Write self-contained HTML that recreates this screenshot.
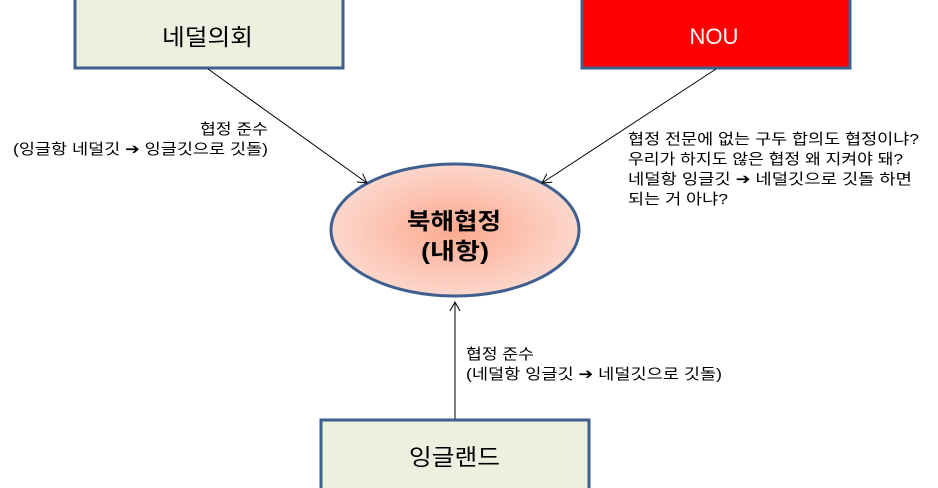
<!DOCTYPE html>
<html><head><meta charset="utf-8"><style>
body{margin:0;width:938px;height:488px;background:#fff;overflow:hidden;}
svg{position:absolute;left:0;top:0}
text{font-family:"Liberation Sans","Noto Sans CJK KR","NanumGothic",sans-serif;}
</style></head><body>
<svg width="938" height="488" viewBox="0 0 938 488">
<defs>
<radialGradient id="g" cx="0.5" cy="0.5" r="0.6">
<stop offset="0" stop-color="#fba98f"/><stop offset="1" stop-color="#fde0d8"/>
</radialGradient>
<marker id="a" markerWidth="12" markerHeight="12" refX="10" refY="6" orient="auto" markerUnits="userSpaceOnUse">
<path d="M1,1 L10,6 L1,11" fill="none" stroke="#000" stroke-width="1"/>
</marker>
</defs>
<rect x="75" y="-3" width="268" height="71" fill="#ebf1de" stroke="#3f5f8f" stroke-width="3"/>
<text x="162" y="45" font-size="23" textLength="91" lengthAdjust="spacingAndGlyphs">네덜의회</text>
<rect x="582" y="-3" width="268" height="71" fill="#ff0000" stroke="#3f5f8f" stroke-width="3"/>
<text x="714" y="44" font-size="22" text-anchor="middle" fill="#fff">NOU</text>
<rect x="321" y="420" width="268" height="71" fill="#ebf1de" stroke="#3f5f8f" stroke-width="3"/>
<text x="409" y="465" font-size="23" textLength="91" lengthAdjust="spacingAndGlyphs">잉글랜드</text>
<ellipse cx="455" cy="230" rx="124" ry="66" fill="url(#g)" stroke="#3f5f8f" stroke-width="3"/>
<text x="407" y="229" font-size="23" font-weight="bold" textLength="94" lengthAdjust="spacingAndGlyphs">북해협정</text>
<text x="421" y="259" font-size="23" font-weight="bold" textLength="68" lengthAdjust="spacingAndGlyphs">(내항)</text>
<line x1="208" y1="69" x2="367" y2="183" stroke="#000" stroke-width="1" marker-end="url(#a)"/>
<line x1="716" y1="69" x2="542" y2="183" stroke="#000" stroke-width="1" marker-end="url(#a)"/>
<line x1="455" y1="419" x2="455" y2="302" stroke="#000" stroke-width="1" marker-end="url(#a)"/>
<g font-size="15">
<text x="200" y="134" textLength="68" lengthAdjust="spacingAndGlyphs">협정 준수</text>
<text x="13" y="154" textLength="255" lengthAdjust="spacingAndGlyphs">(잉글항 네덜깃 ➔ 잉글깃으로 깃돌)</text>
<text x="628" y="144" textLength="291" lengthAdjust="spacingAndGlyphs">협정 전문에 없는 구두 합의도 협정이냐?</text>
<text x="628" y="164" textLength="275" lengthAdjust="spacingAndGlyphs">우리가 하지도 않은 협정 왜 지켜야 돼?</text>
<text x="628" y="184" textLength="284" lengthAdjust="spacingAndGlyphs">네덜항 잉글깃 ➔ 네덜깃으로 깃돌 하면</text>
<text x="628" y="204" textLength="100" lengthAdjust="spacingAndGlyphs">되는 거 아냐?</text>
<text x="466" y="359" textLength="68" lengthAdjust="spacingAndGlyphs">협정 준수</text>
<text x="466" y="379" textLength="256" lengthAdjust="spacingAndGlyphs">(네덜항 잉글깃 ➔ 네덜깃으로 깃돌)</text>
</g>
</svg>
</body></html>
